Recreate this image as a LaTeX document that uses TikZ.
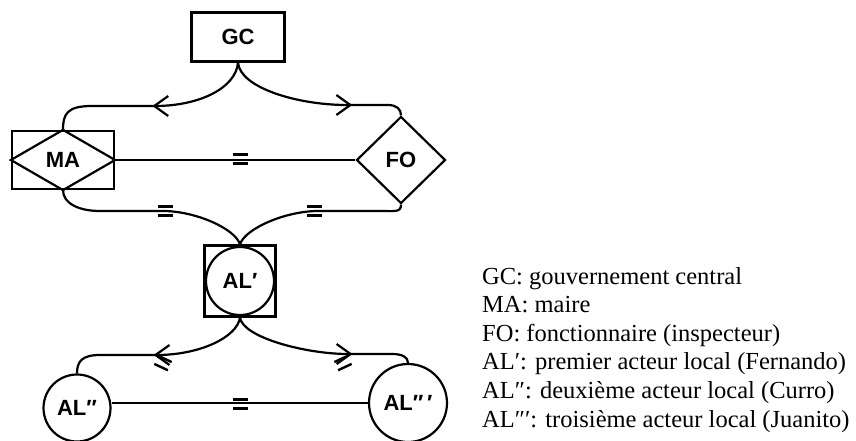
\documentclass[tikz,border=0pt]{standalone}
\usepackage{fontspec}
\setmainfont{Liberation Serif}
\setsansfont{Liberation Sans}
\usetikzlibrary{arrows.meta,shapes.geometric,decorations.markings}

\begin{document}
\begin{tikzpicture}[
    x=1pt,y=-1pt,
    actor/.style={draw,line width=2.2pt,inner sep=0pt,
      font=\sffamily\bfseries\fontsize{22}{26}\selectfont},
    link/.style={line width=2.2pt},
    tipat/.style={postaction={decorate},decoration={markings,
      mark=at position #1 with {\arrow{Straight Barb[length=14pt,width=20pt,line width=2.2pt]}}}},
    legend/.style={anchor=base west,inner sep=0pt,font=\fontsize{24.5}{28}\selectfont},
    eqbars/.pic={\draw[line width=2.4pt] (-7.5,-4.5) -- (7.5,-4.5) (-7.5,4.5) -- (7.5,4.5);}
  ]
    \useasboundingbox (0,0) rectangle (856,441);

    % Actors
    \node[actor,minimum width=93pt,minimum height=49pt] (gc) at (238,37) {GC};
    \node[actor,minimum width=102pt,minimum height=58pt] (ma) at (63,160) {MA};
    \draw[link] (ma.west) -- (ma.north) -- (ma.east) -- (ma.south) -- cycle;
    \node[actor,diamond,minimum width=89pt,minimum height=87pt] (fo) at (401,160) {FO};
    \node[actor,minimum size=71pt] (al1) at (240,281) {AL′};
    \draw[link] (al1.center) circle[radius=34pt];
    \node[actor,circle,minimum size=67pt] (al2) at (77,408) {AL″};
    \node[actor,circle,minimum size=78pt] (al3) at (408,403) {AL″\,′};

    % GC towards MA and FO
    \draw[link,tipat=104pt] (gc.south) .. controls +(-2,25) and +(45,0) .. (155,106)
      -- (92,106) .. controls +(-25,0) and +(0,-16) .. (ma.north);
    \draw[link,tipat=129pt] (gc.south) .. controls +(2,25) and +(-50,0) .. (347,105)
      -- (388,105) .. controls +(9,0) and +(0,-6) .. (fo.north);

    % MA -- FO, and both down to AL'
    \draw[link] (ma.east) -- (fo.west);
    \pic at (240,159) {eqbars};
    \draw[link] (ma.south) .. controls +(0,14) and +(-20,0) .. (100,211)
      -- (163,211) .. controls +(32,0) and +(-5,-16) .. (al1.north);
    \draw[link] (fo.south) .. controls +(0,8) and +(15,0) .. (380,211)
      -- (318,211) .. controls +(-32,0) and +(5,-16) .. (al1.north);
    \pic at (165,211) {eqbars};
    \pic at (314,211) {eqbars};

    % AL' towards AL'' and AL'''
    \draw[link,tipat=100pt] (al1.south) .. controls +(-3,20) and +(42,0) .. (157,355)
      -- (100,355) .. controls +(-18,0) and +(0,-12) .. (al2.north);
    \draw[link,tipat=123pt] (al1.south) .. controls +(3,20) and +(-42,0) .. (348,354)
      -- (392,354) .. controls +(10,0) and +(0,-6) .. (al3.north);
    \pic[rotate=-25] at (163,363) {eqbars};
    \pic[rotate=25] at (343,363) {eqbars};

    \draw[link] (al2.east |- al3.west) -- (al3.west);
    \pic at (240,404) {eqbars};

    % Legend
    \foreach \txt [count=\i from 0] in {GC: gouvernement central, MA: maire,
        FO: fonctionnaire (inspecteur), AL′: premier acteur local (Fernando),
        AL″: deuxième acteur local (Curro), AL″′: troisième acteur local (Juanito)}
      \node[legend] (leg\i) at (482,284+28.6*\i) {\txt};
\end{tikzpicture}
\end{document}
